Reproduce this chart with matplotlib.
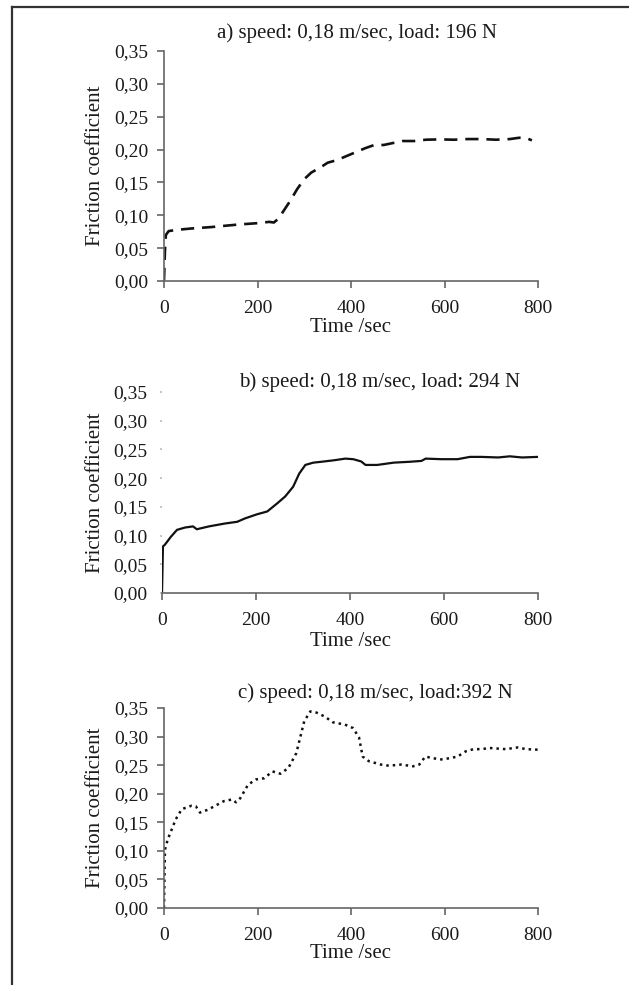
import numpy as np
import matplotlib.pyplot as plt
from matplotlib.lines import Line2D

plt.rcParams['font.family'] = ['Liberation Serif', 'DejaVu Serif']

# a) 196 N, dashed
time_a = [0, 2, 4, 10, 30, 60, 100, 130, 160, 200, 225, 235, 245, 257, 270, 285, 300, 315, 335,
          350, 370, 390, 410, 430, 450, 470, 490, 510, 535, 560, 590, 620, 650, 680, 710, 740,
          760, 775, 787]
fric_a = [0.0, 0.045, 0.070, 0.076, 0.078, 0.080, 0.082, 0.084, 0.086, 0.088, 0.090, 0.089,
          0.095, 0.108, 0.122, 0.140, 0.155, 0.165, 0.173, 0.180, 0.184, 0.190, 0.196, 0.202,
          0.207, 0.207, 0.210, 0.213, 0.213, 0.215, 0.2155, 0.215, 0.216, 0.216, 0.215, 0.216,
          0.218, 0.2175, 0.214]

# b) 294 N, solid
time_b = [0, 2, 6, 19, 32, 49, 66, 74, 100, 134, 160, 177, 202, 224, 245, 262, 279, 292, 305,
          322, 339, 365, 390, 407, 424, 433, 458, 493, 527, 552, 561, 595, 629, 655, 680, 715,
          740, 766, 800]
fric_b = [0.0, 0.081, 0.084, 0.098, 0.110, 0.114, 0.116, 0.111, 0.116, 0.121, 0.124, 0.130,
          0.137, 0.142, 0.156, 0.168, 0.185, 0.208, 0.223, 0.227, 0.2285, 0.231, 0.234, 0.233,
          0.229, 0.223, 0.223, 0.227, 0.2285, 0.230, 0.234, 0.233, 0.233, 0.237, 0.237, 0.236,
          0.238, 0.236, 0.237]

# c) 392 N, dotted
time_c = [0, 2, 8, 25, 38, 59, 68, 77, 94, 128, 146, 154, 163, 180, 197, 214, 232, 249, 266,
          283, 300, 313, 326, 344, 361, 387, 404, 417, 425, 438, 464, 481, 507, 533, 546, 559,
          576, 593, 610, 628, 645, 662, 679, 697, 714, 731, 757, 774, 800]
fric_c = [0.0, 0.102, 0.120, 0.155, 0.173, 0.179, 0.178, 0.167, 0.172, 0.187, 0.190, 0.185,
          0.192, 0.216, 0.225, 0.227, 0.239, 0.235, 0.245, 0.271, 0.327, 0.344, 0.342, 0.335,
          0.325, 0.321, 0.315, 0.299, 0.265, 0.257, 0.251, 0.249, 0.251, 0.248, 0.251, 0.265,
          0.262, 0.260, 0.262, 0.265, 0.274, 0.278, 0.278, 0.280, 0.279, 0.278, 0.281, 0.278,
          0.277]

titles = ["a) speed: 0,18 m/sec, load: 196 N",
          "b) speed: 0,18 m/sec, load: 294 N",
          "c) speed: 0,18 m/sec, load:392 N"]
yticks = [0.0, 0.05, 0.10, 0.15, 0.20, 0.25, 0.30, 0.35]
ytick_labels = ["0,00", "0,05", "0,10", "0,15", "0,20", "0,25", "0,30", "0,35"]
xticks = [0, 200, 400, 600, 800]

W, H = 629, 985
fig = plt.figure(figsize=(W / 100, H / 100), dpi=100)

def px(l, t, r, b):
    return [l / W, 1 - b / H, (r - l) / W, (b - t) / H]

# (axes box in px, title centre x/y, xlabel y)
layout = [
    (px(164, 51, 538, 281), 357, 33, 328),
    (px(162, 392, 538, 593), 380, 382, 641),
    (px(164, 708, 538, 908), 375, 693, 954),
]
series = [(time_a, fric_a, dict(ls=(0, (5, 3)), lw=1.9)),
          (time_b, fric_b, dict(ls='-', lw=1.6)),
          (time_c, fric_c, dict(ls=(0, (1, 1.6)), lw=1.8))]

spine_col = '#666666'
text_col = '#1a1a1a'
for i, ((rect, tx, ty, xly), (t, f, style)) in enumerate(zip(layout, series)):
    ax = fig.add_axes(rect)
    ax.plot(t, f, color='#111111', solid_capstyle='butt', dash_capstyle='butt', **style)
    ax.set_xlim(0, 800)
    ax.set_ylim(0, 0.35)
    ax.set_xticks(xticks)
    ax.set_xticklabels([str(v) for v in xticks])
    ax.set_yticks(yticks)
    ax.set_yticklabels(ytick_labels)
    for s in ['top', 'right']:
        ax.spines[s].set_visible(False)
    ax.spines['bottom'].set_color(spine_col)
    ax.spines['bottom'].set_linewidth(1.2)
    ax.spines['left'].set_color(spine_col)
    ax.spines['left'].set_linewidth(1.2)
    ax.tick_params(axis='x', direction='out', length=5, width=1.2, color=spine_col,
                   labelsize=14, labelcolor=text_col, pad=8.5)
    ax.tick_params(axis='y', direction='out', length=5, width=1.2, color=spine_col,
                   labelsize=14, labelcolor=text_col, pad=6)
    if i == 1:
        ax.spines['left'].set_visible(False)
        ax.tick_params(axis='y', length=1.5, color='#bbbbbb', pad=9)
    ax.patch.set_alpha(0)

    fig.text(tx / W, 1 - ty / H, titles[i], ha='center', va='center', fontsize=15, color=text_col)
    fig.text(351 / W, 1 - xly / H, "Time /sec", ha='center', va='center', fontsize=15, color=text_col)
    fig.text(96 / W, rect[1] + rect[3] / 2, "Friction coefficient", rotation=90,
             ha='center', va='center', fontsize=15, color=text_col)

# frame lines around the figure
fig.add_artist(Line2D([12 / W, 1], [1 - 7 / H, 1 - 7 / H], color='#333333', lw=1.6))
fig.add_artist(Line2D([12 / W, 12 / W], [0, 1 - 7 / H], color='#333333', lw=1.6))

fig.savefig("out.png", dpi=100)
